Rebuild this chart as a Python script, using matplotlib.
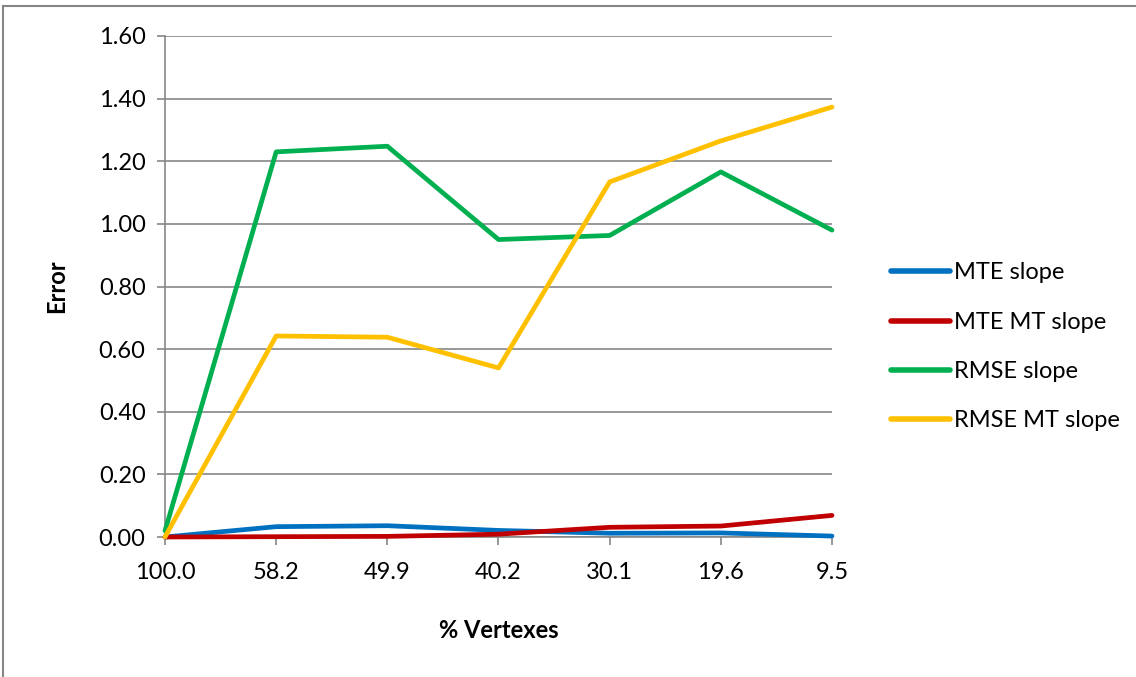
import matplotlib
matplotlib.use('Agg')
import matplotlib.pyplot as plt
from matplotlib.lines import Line2D

plt.rcParams['font.family'] = ['Lato', 'DejaVu Sans']

categories = ['100.0', '58.2', '49.9', '40.2', '30.1', '19.6', '9.5']
mte_slope = [0.0, 0.033, 0.036, 0.021, 0.012, 0.013, 0.003]
mte_mt_slope = [0.0, 0.001, 0.002, 0.009, 0.031, 0.035, 0.069]
rmse_slope = [0.02, 1.23, 1.248, 0.95, 0.963, 1.166, 0.98]
rmse_mt_slope = [0.0, 0.642, 0.638, 0.54, 1.134, 1.265, 1.373]
series_names = ['MTE slope', 'MTE MT slope', 'RMSE slope', 'RMSE MT slope']
series_colors = ['#0070C0', '#C00000', '#00B050', '#FFC000']
yticks = [0.0, 0.2, 0.4, 0.6, 0.8, 1.0, 1.2, 1.4, 1.6]

fig = plt.figure(figsize=(11.36, 6.77), dpi=100)
W, H = 1136, 677
ax = fig.add_axes([165 / W, 1 - 537 / H, (832 - 165) / W, (537 - 36) / H])

xs = list(range(len(categories)))
for vals, name, col in zip([mte_slope, mte_mt_slope, rmse_slope, rmse_mt_slope],
                           series_names, series_colors):
    ax.plot(xs, vals, color=col, lw=3.4, label=name, solid_capstyle='round',
            solid_joinstyle='round', zorder=5, clip_on=False)

ax.set_xlim(0, len(categories) - 1)
ax.set_ylim(0, 1.6)
ax.set_yticks(yticks)
ax.set_yticklabels(['%.2f' % v for v in yticks], fontsize=17)
ax.set_xticks(xs)
ax.set_xticklabels(categories, fontsize=17)
ax.grid(axis='y', color='#868686', lw=1.2, zorder=0)
for s in ['top', 'right']:
    ax.spines[s].set_visible(False)
for s in ['left', 'bottom']:
    ax.spines[s].set_color('#868686')
    ax.spines[s].set_linewidth(1.2)
ax.tick_params(axis='y', length=6, color='#868686', width=1.2, pad=8)
ax.tick_params(axis='x', length=6, color='#868686', width=1.2, pad=12)

ax.set_ylabel('Error', fontsize=17, fontweight='bold', labelpad=22)
ax.set_xlabel('% Vertexes', fontsize=17, fontweight='bold', labelpad=26)

handles = [Line2D([0], [0], color=c, lw=4, solid_capstyle='round') for c in series_colors]
leg = fig.legend(handles, series_names, loc='upper left',
                 bbox_to_anchor=(882 / W, 1 - 253 / H), frameon=False,
                 fontsize=17, handlelength=2.5, handletextpad=0.15,
                 labelspacing=1.2, borderaxespad=0)

# outer chart border (top and left edges visible)
fig.add_artist(Line2D([3 / W, 1.0], [1 - 6 / H, 1 - 6 / H], transform=fig.transFigure,
                      color='#868686', lw=1.5))
fig.add_artist(Line2D([3 / W, 3 / W], [0.0, 1 - 6 / H], transform=fig.transFigure,
                      color='#868686', lw=1.5))

fig.savefig('out.png', dpi=100)
